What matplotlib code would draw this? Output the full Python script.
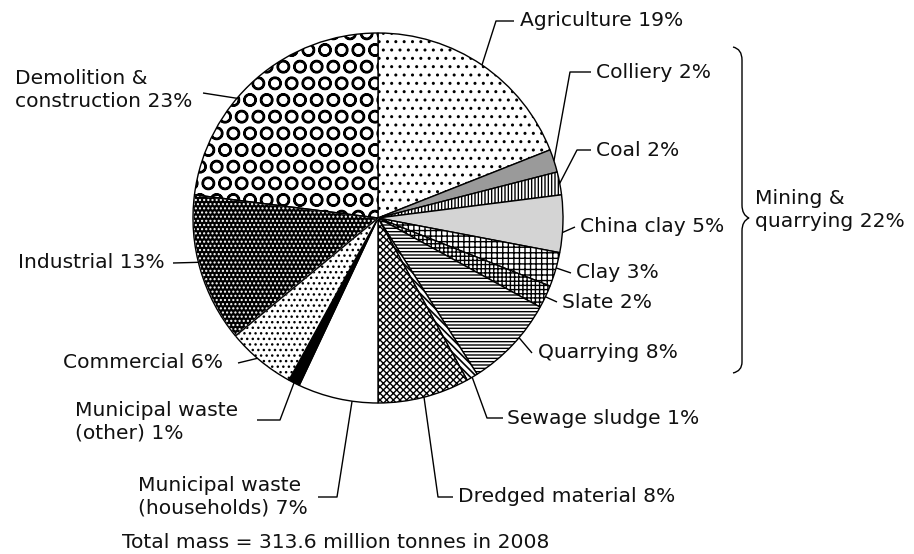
import numpy as np
import matplotlib
matplotlib.use('Agg')
import matplotlib.pyplot as plt
from matplotlib.path import Path
from matplotlib.patches import PathPatch, Wedge

W, H = 914, 554

# waste by source, clockwise from 12 o'clock
categories = ['Agriculture', 'Colliery', 'Coal', 'China clay', 'Clay', 'Slate',
              'Quarrying', 'Sewage sludge', 'Dredged material',
              'Municipal waste\n(households)', 'Municipal waste\n(other)',
              'Commercial', 'Industrial', 'Demolition &\nconstruction']
shares = [19, 2, 2, 5, 3, 2, 8, 1, 8, 7, 1, 6, 13, 23]
mining_group = 'Mining &\nquarrying'
mining_share = 22
total_note = 'Total mass = 313.6 million tonnes in 2008'

# fill, hatch, hatch colour, hatch width per slice
styles = [
    ('white', '..', 'black', 1.0),
    ('#9a9a9a', '', 'black', 1.0),
    ('white', '|||||', 'black', 1.0),
    ('#d4d4d4', '', 'black', 1.0),
    ('white', '+++', 'black', 1.0),
    ('white', '++++', 'black', 1.0),
    ('white', '-----', 'black', 1.0),
    ('white', '\\\\\\\\\\', 'black', 1.2),
    ('white', 'xxxxx', 'black', 1.0),
    ('white', '', 'black', 1.0),
    ('black', '', 'black', 1.0),
    ('white', '...', 'black', 1.0),
    ('black', '....', 'white', 1.0),
    ('white', 'O', 'black', 1.6),
]

# label layout in picture pixels (y down): anchor position inside slice,
# elbow points, text position, alignment
layout = [
    (0.5, [(496, 21), (514, 21)], (520, 20), 'left'),
    (0.5, [(570, 72), (591, 72)], (596, 72), 'left'),
    (0.5, [(577, 150), (591, 150)], (596, 150), 'left'),
    (0.35, [(575, 227)], (580, 227), 'left'),
    (0.55, [(571, 273)], (576, 272), 'left'),
    (0.5, [(557, 302)], (562, 302), 'left'),
    (0.6, [(532, 353)], (538, 353), 'left'),
    (0.5, [(487, 418), (503, 418)], (507, 418), 'left'),
    (0.5, [(438, 497), (453, 497)], (458, 497), 'left'),
    (0.68, [(337, 497), (318, 497)], (308, 497), 'right'),
    (0.5, [(280, 420), (257, 420)], (75, 422), 'left'),
    (0.45, [(238, 363)], (223, 363), 'right'),
    (0.45, [(173, 263)], (165, 263), 'right'),
    (0.6, [(203, 93)], (15, 90), 'left'),
]

cx, cy, R = 378, 218, 185


def Y(y):
    return H - y


plt.rcParams['font.family'] = ['DejaVu Sans']
plt.rcParams['hatch.linewidth'] = 1.0

fig = plt.figure(figsize=(W / 100, H / 100), dpi=100)
ax = fig.add_axes([0, 0, 1, 1])

wedges, _ = ax.pie(shares, startangle=90, counterclock=False,
                   center=(cx, Y(cy)), radius=R,
                   wedgeprops=dict(edgecolor='black', linewidth=1.0))

for w, (fc, hatch, hc, hlw) in zip(wedges, styles):
    w.set_facecolor(fc)
    w.set_hatch(hatch)
    w.set_edgecolor(hc)
    if hasattr(w, 'set_hatch_linewidth'):
        w.set_hatch_linewidth(hlw)
    if hc != 'black':
        ax.add_patch(Wedge(w.center, w.r, w.theta1, w.theta2, fill=False,
                           edgecolor='black', linewidth=1.0, zorder=w.get_zorder() + 0.1))

fs = 14.6
for w, name, share, (t, pts, (tx, ty), ha) in zip(wedges, categories, shares, layout):
    ang = np.deg2rad(w.theta1 + t * (w.theta2 - w.theta1))
    x0 = w.center[0] + w.r * np.cos(ang)
    y0 = w.center[1] + w.r * np.sin(ang)
    xs = [x0] + [p[0] for p in pts]
    ys = [y0] + [Y(p[1]) for p in pts]
    ax.plot(xs, ys, color='black', linewidth=1.0, solid_capstyle='butt')
    ax.text(tx, Y(ty), f'{name} {share}%', ha=ha, va='center', ma='left',
            fontsize=fs, linespacing=1.25, color='#111111')

# curly brace for the mining group
brace = [(733, 47), (742, 49), (742, 60), (742, 205), (742, 215), (749, 218),
         (742, 221), (742, 231), (742, 362), (742, 371), (733, 373)]
codes = [Path.MOVETO, Path.CURVE3, Path.CURVE3, Path.LINETO, Path.CURVE3, Path.CURVE3,
         Path.CURVE3, Path.CURVE3, Path.LINETO, Path.CURVE3, Path.CURVE3]
ax.add_patch(PathPatch(Path([(x, Y(y)) for x, y in brace], codes),
                       fill=False, edgecolor='black', linewidth=1.0))
ax.text(755, Y(210), f'{mining_group} {mining_share}%', ha='left', va='center',
        fontsize=fs, linespacing=1.25, color='#111111')

ax.text(336, Y(542), total_note, ha='center', va='center', fontsize=fs, color='#111111')

ax.set_xlim(0, W)
ax.set_ylim(0, H)
ax.set_aspect('equal')
ax.axis('off')

fig.savefig('out.png', dpi=100, facecolor='white')
